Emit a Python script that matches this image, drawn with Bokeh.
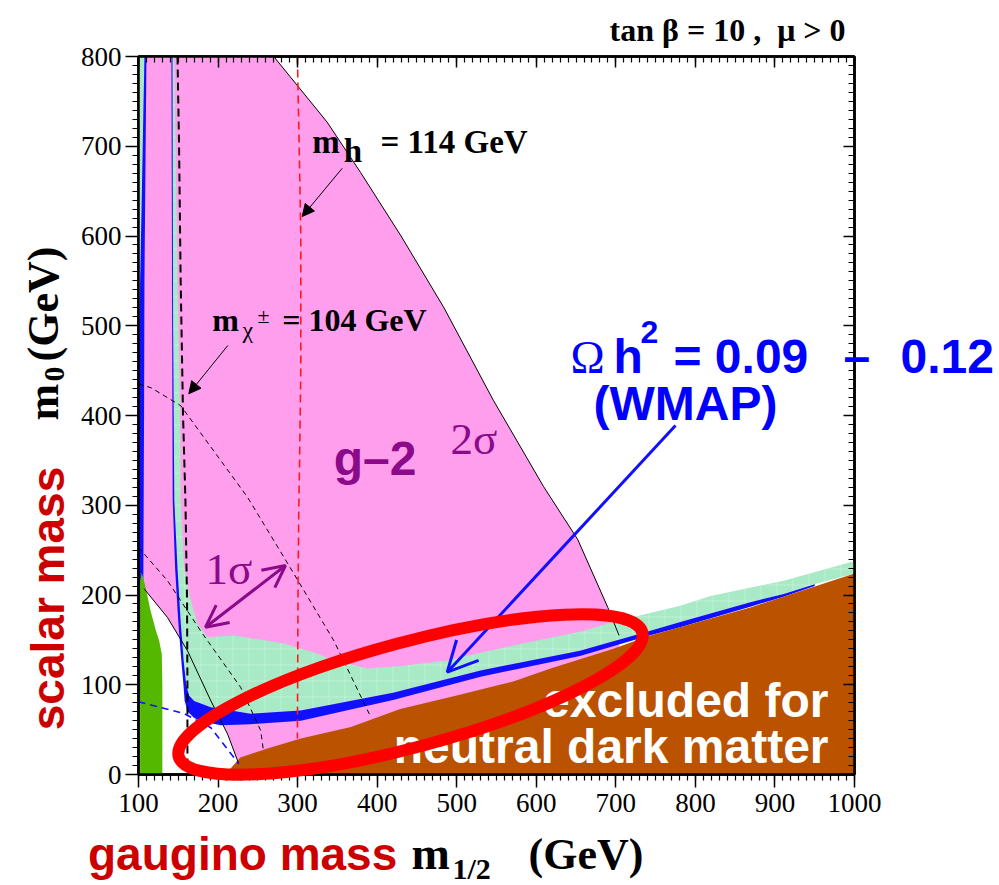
import math
from bokeh.plotting import figure
from bokeh.models import (Range1d, FixedTicker, LinearAxis, Label, Arrow,
                          NormalHead, OpenHead, CustomJSTickFormatter)
from bokeh.core.properties import value
from bokeh.embed import file_html
from bokeh.resources import INLINE

# ---------------- data (m_1/2 [GeV], m_0 [GeV]) ----------------
x_ticks = list(range(100, 1001, 100))
x_minor = list(range(100, 1001, 10))
y_ticks = list(range(0, 801, 100))
y_minor = list(range(0, 801, 10))

# g-2 (2 sigma) region: right black edge and lower-left black edge
g2_edge_x = [270, 337, 379, 430, 484, 546, 609, 652, 690, 704]
g2_edge_y = [800, 727, 671, 600, 520, 417, 321, 262, 186, 155]
lep_edge_x = [226, 212, 191, 161.5, 136.4, 107]
lep_edge_y = [12, 45, 82, 138, 175, 207]

# old relic density band (light green): upper boundary
relic_top_x = [142.7, 145, 149, 152.3, 153, 157.3, 165.7, 174, 186.7, 220, 283, 325, 346,
               388, 430, 488, 572, 655, 697, 739, 781, 819, 911, 1000]
relic_top_y = [800, 800, 550, 400, 305, 231, 194, 168, 153, 155, 146, 134.5, 127,
               118, 121, 127, 144, 159, 170, 179, 188, 199, 216, 238]

# WMAP strip (blue): inner and outer edges
wmap_in_x = [142.7, 143.5, 145, 149, 153, 157, 160, 163.6, 170, 191, 241, 304, 420,
             530, 655, 739, 781, 869, 911, 950]
wmap_in_y = [800, 500, 305, 230, 170, 125, 100, 88, 82, 75, 67.6, 71.3, 91,
             116, 138, 159, 170, 192, 201, 212]
wmap_out_x = [141.4, 142.3, 143, 146, 150, 154, 156.5, 158, 162, 170, 178, 203, 241, 304,
              420, 530, 655, 739, 781, 869, 911, 950]
wmap_out_y = [800, 500, 305, 230, 170, 125, 100, 82, 70, 63, 60, 55, 56, 60,
              83, 109, 132, 154, 164, 187, 198, 210]

# thin strips along the left edge
left_relic_x = [100, 107.5, 102, 100.5, 100]
left_relic_y = [800, 800, 550, 450, 450]
left_wmap_x = [107.5, 110, 107.5, 107, 106.5, 106, 105, 103, 100, 100, 100.5, 102]
left_wmap_y = [800, 800, 550, 400, 300, 200, 120, 82, 80, 450, 450, 550]

# b -> s gamma excluded (green)
bsg_x = [102, 102, 104, 108, 115, 122, 126, 129.3, 130, 130]
bsg_y = [0, 215, 225, 212, 183, 160, 149, 134, 100, 0]

# charged LSP excluded (brown)
stau_x = [213, 214, 228, 262, 304, 367, 429, 500, 572, 618, 697, 740, 869, 1000, 1000]
stau_y = [0, 5, 19, 29, 40, 53, 73, 88, 104, 118, 140, 154, 186, 224, 0]

# contour lines
chargino_x = [149, 151, 153, 156, 159, 161, 161.5, 161.5]
chargino_y = [800, 700, 550, 400, 305, 194, 100, 15]
higgs_x = [299.7, 302, 304, 304, 302.5, 301.5, 300.5, 300, 299.7]
higgs_y = [800, 700, 600, 450, 350, 300, 200, 100, 40]
g2_1s_up_x = [100, 115.6, 153, 237, 289, 345.6, 392]
g2_1s_up_y = [435, 431, 411, 309, 233, 149, 64]
g2_1s_lo_x = [100, 136.4, 180.4, 228.5, 253.6, 257]
g2_1s_lo_y = [253, 216, 157, 97, 49, 27]
blue_dash_x = [100, 157, 191, 226]
blue_dash_y = [81, 68, 52, 12]

# ---------------- layout helpers (page pixels -> data) ----------------
FRAME_L, FRAME_R, FRAME_T, FRAME_B = 138, 854, 56, 774
W, H = 999, 885
BASE_K = 0.32   # renderer draws the text baseline this many ems below the anchor


def X(px):
    return 100 + (px - FRAME_L) * 900.0 / (FRAME_R - FRAME_L)


def Y(py):
    return (FRAME_B - py) * 800.0 / (FRAME_B - FRAME_T)


PINK = "#ff9eec"
LGREEN = "#a8eac6"
BLUE = "#1010ff"
BROWN = "#bb5200"
GREEN = "#55b800"
PURPLE = "#8a0a8a"
SERIF = "Liberation Serif"
SANS = "Liberation Sans"

p = figure(width=W, height=H, output_backend="svg", toolbar_location=None,
           x_range=Range1d(100, 1000), y_range=Range1d(0, 800),
           min_border_left=FRAME_L, min_border_right=W - FRAME_R,
           min_border_top=FRAME_T, min_border_bottom=H - FRAME_B)
p.grid.visible = False
p.background_fill_color = "white"
p.border_fill_color = "white"
p.outline_line_color = "black"
p.outline_line_width = 2.5

# ---------------- regions ----------------
pink_x = [105] + g2_edge_x + [704, 230] + lep_edge_x + [105]
pink_y = [800] + g2_edge_y + [0, 0] + lep_edge_y + [207]
p.patch(pink_x, pink_y, fill_color=PINK, line_color=None)

relic_x = relic_top_x + [1000] + wmap_in_x[::-1]
relic_y = relic_top_y + [224] + wmap_in_y[::-1]
p.patch(relic_x, relic_y, fill_color=LGREEN, line_color=None,
        hatch_pattern="+", hatch_color="white", hatch_alpha=0.25, hatch_scale=16, hatch_weight=1)
p.patch(left_relic_x, left_relic_y, fill_color=LGREEN, line_color=None)

p.patch(wmap_out_x + wmap_in_x[::-1], wmap_out_y + wmap_in_y[::-1], fill_color=BLUE, line_color=None)
p.patch(left_wmap_x, left_wmap_y, fill_color=BLUE, line_color=None)

p.patch(bsg_x, bsg_y, fill_color=GREEN, line_color=None)
p.patch(stau_x, stau_y, fill_color=BROWN, line_color=None)

# ---------------- lines ----------------
p.line(g2_edge_x, g2_edge_y, line_color="black", line_width=1)
p.line(lep_edge_x, lep_edge_y, line_color="black", line_width=1)
p.line(chargino_x, chargino_y, line_color="black", line_width=2, line_dash="8 5")
p.line(higgs_x, higgs_y, line_color="#ff1a1a", line_width=1.6, line_dash="8 5")
p.line(g2_1s_up_x, g2_1s_up_y, line_color="black", line_width=1, line_dash="5 4")
p.line(g2_1s_lo_x, g2_1s_lo_y, line_color="black", line_width=1, line_dash="5 4")
p.line(blue_dash_x, blue_dash_y, line_color=BLUE, line_width=1.6, line_dash="7 5")

# ---------------- axes ----------------
bottom = p.below[0]
left = p.left[0]
bottom.ticker = FixedTicker(ticks=x_ticks, minor_ticks=x_minor)
left.ticker = FixedTicker(ticks=y_ticks, minor_ticks=y_minor)
for ax in (bottom, left):
    ax.axis_line_width = 2.5
    ax.major_tick_line_width = 1.5
    ax.minor_tick_line_width = 1.2
    ax.major_tick_out = 13
    ax.major_tick_in = 0
    ax.minor_tick_out = 6
    ax.minor_tick_in = 0
    ax.major_label_text_font = SERIF
    ax.major_label_text_font_size = "27px"
    ax.major_label_text_color = "black"
    ax.major_label_standoff = 4
bottom.major_label_standoff = 6

top = LinearAxis(ticker=FixedTicker(ticks=x_ticks, minor_ticks=x_minor))
right = LinearAxis(ticker=FixedTicker(ticks=y_ticks, minor_ticks=y_minor))
for ax in (top, right):
    ax.formatter = CustomJSTickFormatter(code="return ''")
    ax.axis_line_width = 2.5
    ax.major_tick_line_width = 1.5
    ax.minor_tick_line_width = 1.2
    ax.major_tick_in = 11
    ax.major_tick_out = 0
    ax.minor_tick_in = 6
    ax.minor_tick_out = 0
    ax.major_label_standoff = 0
p.add_layout(top, "above")
p.add_layout(right, "right")


# ---------------- text inside the frame (annotations) ----------------
def lab(text, px, py, size, font=SERIF, style="bold", color="black", align="left"):
    py = py - BASE_K * size
    p.add_layout(Label(x=X(px), y=Y(py), text=text, text_font=font,
                       text_font_size=f"{size}px", text_font_style=style, text_color=color,
                       text_align=align, text_baseline="alphabetic"))


# ---------------- text outside the frame (unclipped text glyphs) ----------------
def otext(text, px, py, size, font=SERIF, style="bold", color="black", align="left", angle=0.0):
    if angle == 0.0:
        py = py - BASE_K * size
    else:
        px = px - BASE_K * size
    apx = min(max(px, FRAME_L + 3), FRAME_R - 3)
    apy = min(max(py, FRAME_T + 3), FRAME_B - 3)
    r = p.text(x=[X(apx)], y=[Y(apy)], text=[text], x_offset=px - apx, y_offset=py - apy,
               angle=angle, text_font=value(font), text_font_size=value(f"{size}px"),
               text_font_style=value(style), text_color=color, text_align=align,
               text_baseline="alphabetic")
    r.level = "overlay"


otext("tan β = 10 ,\u00a0 μ > 0", 845, 40, 32, align="right")

lab("m", 311.7, 151.7, 33)
lab("h", 343.3, 160.7, 33)
lab("= 114 GeV", 380, 151.7, 33)

lab("m", 211.7, 330, 32)
lab("χ", 242, 337, 24, style="normal")
lab("±", 257, 322, 22, style="normal")
lab("= 104 GeV", 281.7, 330, 32)

lab("Ω", 570, 371.7, 46, style="normal", color="#0000ff")
lab("h", 613, 371.7, 48, font=SANS, color="#0000ff")
lab("2", 640, 341.7, 32, font=SANS, color="#0000ff")
lab("= 0.09", 673, 371.7, 48, font=SANS, color="#0000ff")
otext("–", 843, 371.7, 48, font=SANS, color="#0000ff")
otext("0.12", 900, 371.7, 48, font=SANS, color="#0000ff")
lab("(WMAP)", 593, 418, 48, font=SANS, color="#0000ff")

lab("g–2", 333.3, 473, 48, font=SANS, color=PURPLE)
lab("2σ", 450, 453, 45, style="normal", color=PURPLE)
lab("1σ", 205, 583, 45, style="normal", color=PURPLE)

lab("excluded for", 828, 715, 48, font=SANS, color="white", align="right")
lab("neutral dark matter", 828, 761.7, 48, font=SANS, color="white", align="right")

# axis titles
otext("scalar mass", 62, 598, 46, font=SANS, color="#cc0000", align="center", angle=math.pi / 2)
otext("m", 57, 420, 44, angle=math.pi / 2)
otext("0", 64, 381, 30, angle=math.pi / 2)
otext("(GeV)", 57, 361, 44, angle=math.pi / 2)

otext("gaugino mass", 87.5, 868, 46, font=SANS, color="#cc0000")
otext("m", 411, 868, 46)
otext("1/2", 452, 878, 30)
otext("(GeV)", 528, 868, 44)

# ---------------- arrows ----------------
p.add_layout(Arrow(x_start=X(341.7), y_start=Y(167.8), x_end=X(301.7), y_end=Y(216),
                   line_color="black", line_width=1,
                   end=NormalHead(size=12, fill_color="black", line_color="black", line_width=1)))
p.add_layout(Arrow(x_start=X(227.3), y_start=Y(345), x_end=X(188.3), y_end=Y(393.3),
                   line_color="black", line_width=1,
                   end=NormalHead(size=12, fill_color="black", line_color="black", line_width=1)))
p.add_layout(Arrow(x_start=X(205), y_start=Y(626.7), x_end=X(285), y_end=Y(565),
                   line_color=PURPLE, line_width=3,
                   start=OpenHead(size=22, line_color=PURPLE, line_width=3),
                   end=OpenHead(size=22, line_color=PURPLE, line_width=3)))
p.add_layout(Arrow(x_start=X(675), y_start=Y(425), x_end=X(446.7), y_end=Y(671.7),
                   line_color=BLUE, line_width=3,
                   end=OpenHead(size=30, line_color=BLUE, line_width=3)))

# ---------------- red ellipse ----------------
ell = p.ellipse(x=[X(410)], y=[Y(694)], width=[480], height=[105], angle=[15],
                angle_units="deg", width_units="screen", height_units="screen",
                fill_color=None, line_color="#ff0000", line_width=12)
ell.level = "overlay"

open("out.html", "w").write(file_html(p, INLINE))
